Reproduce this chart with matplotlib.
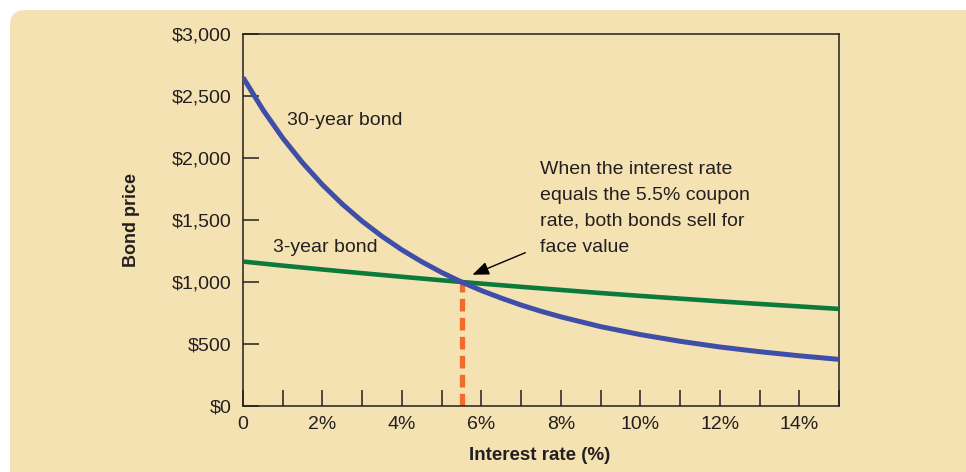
import matplotlib.pyplot as plt
from matplotlib.patches import FancyBboxPatch

# interest rates (%) and bond prices
rates_30 = [0, 0.5, 1, 1.5, 2, 2.5, 3, 3.5, 4, 4.5, 5, 5.5, 6, 6.5, 7, 7.5, 8, 9, 10, 11, 12, 13, 14, 15]
price_30 = [2650, 2390, 2161, 1961, 1784, 1628, 1490, 1368, 1259, 1163, 1077, 1000,
            931, 870, 814, 764, 719, 640, 576, 522, 476, 438, 405, 376]
rates_3 = [0, 1, 2, 3, 4, 5, 5.5, 6, 7, 8, 9, 10, 11, 12, 13, 14, 15]
price_3 = [1165, 1132, 1101, 1071, 1042, 1014, 1000, 987, 961, 936, 911, 888, 866, 844, 823, 803, 783]
coupon_rate = 5.5
face_value = 1000

y_ticks = [0, 500, 1000, 1500, 2000, 2500, 3000]
y_labels = ["$0", "$500", "$1,000", "$1,500", "$2,000", "$2,500", "$3,000"]
x_label_ticks = [0, 2, 4, 6, 8, 10, 12, 14]
x_labels = ["0", "2%", "4%", "6%", "8%", "10%", "12%", "14%"]

BEIGE = "#F5E2B3"
BLUE = "#3F4FA8"
GREEN = "#0B7A3B"
ORANGE = "#F26B2A"
INK = "#231F20"

plt.rcParams['font.family'] = ['Liberation Sans', 'DejaVu Sans']

fig = plt.figure(figsize=(9.66, 4.72), dpi=100)
fig.patch.set_facecolor("white")

W, H = 966, 472
panel = FancyBboxPatch((10 / W, -0.2), 1.1, 1.2 - 10 / H,
                       boxstyle="round,pad=0,rounding_size=0.016",
                       transform=fig.transFigure, facecolor=BEIGE, edgecolor="none",
                       mutation_aspect=W / H, zorder=-1)
fig.patches.append(panel)

ax = fig.add_axes([243 / W, 1 - 406 / H, (839 - 243) / W, (406 - 34) / H])
ax.set_zorder(1)
ax.set_facecolor(BEIGE)
ax.set_xlim(0, 15)
ax.set_ylim(0, 3000)

ax.plot(rates_3, price_3, color=GREEN, lw=3.3, solid_capstyle="butt", zorder=3)
ax.plot(rates_30, price_30, color=BLUE, lw=3.6, solid_capstyle="butt", zorder=4)
ax.plot([coupon_rate, coupon_rate], [0, face_value], color=ORANGE, lw=3.8,
        dashes=(2.4, 1.2), zorder=2)

for s in ax.spines.values():
    s.set_color(INK)
    s.set_linewidth(1.1)

ax.set_yticks(y_ticks)
ax.set_yticklabels(y_labels)
ax.set_xticks(range(16))
ax.set_xticklabels([x_labels[x_label_ticks.index(i)] if i in x_label_ticks else "" for i in range(16)])
ax.tick_params(axis="both", direction="in", length=11.5, width=1.1, color=INK,
               labelsize=14, labelcolor=INK)
ax.tick_params(axis="y", pad=8.5)
ax.tick_params(axis="x", pad=7)

fig.text(132 / W, 1 - 220 / H, "Bond price", rotation=90, ha="center", va="center",
         fontsize=13, fontweight="bold", color=INK)
fig.text(540 / W, 1 - 455 / H, "Interest rate (%)", ha="center", va="center",
         fontsize=13.5, fontweight="bold", color=INK)

ax.text(1.11, 2306, "30-year bond", fontsize=14, color=INK, ha="left", va="center")
ax.text(0.75, 1282, "3-year bond", fontsize=14, color=INK, ha="left", va="center")
ax.text(7.47, 1975, "When the interest rate\nequals the 5.5% coupon\nrate, both bonds sell for\nface value",
        fontsize=14, color=INK, ha="left", va="top", linespacing=1.68)
ax.annotate("", xy=(5.71, 1050), xytext=(7.17, 1245),
            arrowprops=dict(arrowstyle="-|>,head_length=1.0,head_width=0.4", color="black", lw=1.0),
            zorder=5)

fig.savefig("out.png", dpi=100)
